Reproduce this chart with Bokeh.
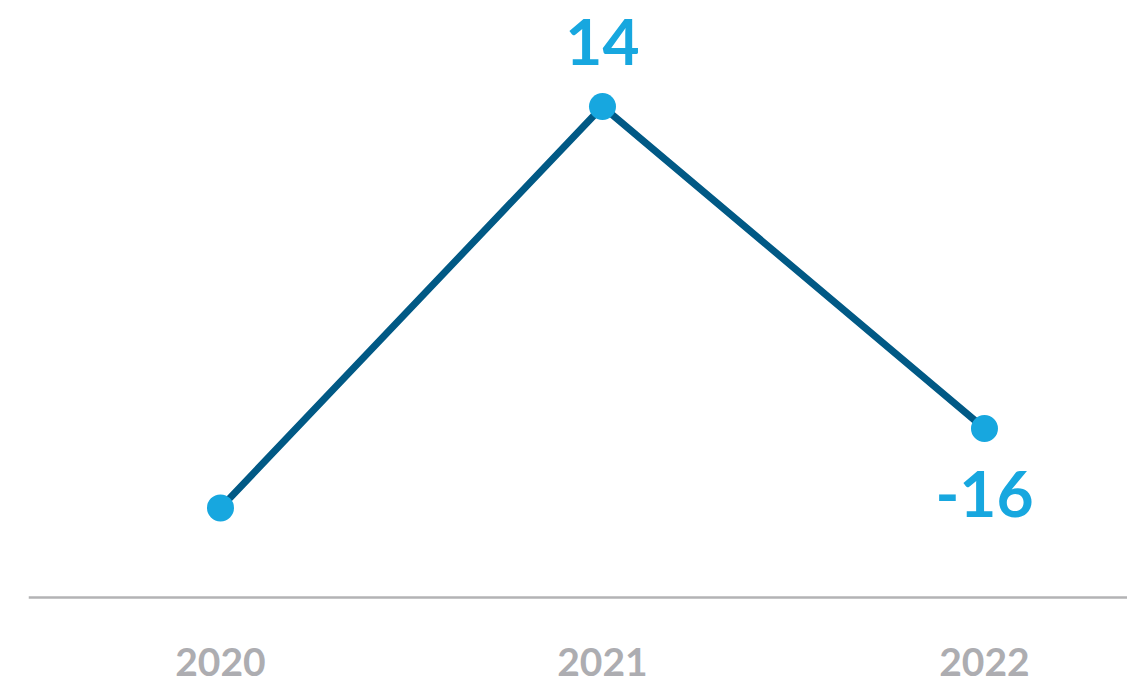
from bokeh.plotting import figure
from bokeh.models import ColumnDataSource, Range1d, Span
from bokeh.core.properties import value
from bokeh.embed import file_html
from bokeh.resources import INLINE

years = [2020, 2021, 2022]
values = [-23.4, 14, -16]
label_years = [2021, 2022]
label_values = [14, -16]
label_texts = ["14", "-16"]
tick_labels = ["2020", "2021", "2022"]
axis_value = -31.75

p = figure(width=1127, height=680, output_backend="svg", toolbar_location=None,
           x_range=Range1d(2019.4974, 2022.3744), y_range=Range1d(-39.48, 23.876),
           min_border_left=28, min_border_right=0, min_border_top=0, min_border_bottom=0)
p.outline_line_color = None
p.background_fill_color = "white"
p.border_fill_color = "white"
p.grid.visible = False
p.xaxis.visible = False
p.yaxis.visible = False

p.add_layout(Span(location=axis_value, dimension="width", line_color="#b3b3b5", line_width=2.5))

ticks_src = ColumnDataSource(dict(x=years, y=[axis_value] * len(years), t=tick_labels))
p.text("x", "y", text="t", source=ticks_src, text_font=value("Lato"), text_font_style="bold",
       text_font_size="39px", text_color="#adadb1", text_align="center",
       text_baseline="alphabetic", y_offset=64)

src = ColumnDataSource(dict(x=years, y=values))
p.line("x", "y", source=src, line_color="#015985", line_width=7)
p.scatter("x", "y", source=src, size=27, fill_color="#17a7df", line_color=None)

lab_top = ColumnDataSource(dict(x=[label_years[0]], y=[label_values[0]], t=[label_texts[0]]))
lab_bot = ColumnDataSource(dict(x=[label_years[1]], y=[label_values[1]], t=[label_texts[1]]))
p.text("x", "y", text="t", source=lab_top, text_font=value("Lato"), text_font_style="bold",
       text_font_size="64px", text_color="#17a7df", text_align="center",
       text_baseline="alphabetic", y_offset=-64)
p.text("x", "y", text="t", source=lab_bot, text_font=value("Lato"), text_font_style="bold",
       text_font_size="64px", text_color="#17a7df", text_align="center",
       text_baseline="alphabetic", y_offset=66)

open("out.html", "w").write(file_html(p, INLINE))
